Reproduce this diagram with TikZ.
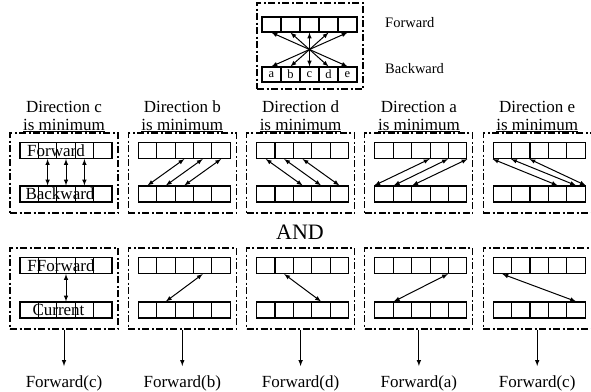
\documentclass[tikz,border=0pt]{standalone}
\usepackage{fontspec}
\setmainfont{Liberation Serif}
\usetikzlibrary{arrows}

\tikzstyle{cell}=[
    rectangle,
    line width=1.1pt,
    draw=black,
    minimum width=18.4pt,
    minimum height=16pt,
    inner sep=0pt,
    font=\fontsize{12.5}{13}\selectfont
]
\tikzstyle{frame}=[
    rectangle,
    line width=1.1pt,
    draw=black,
    dash pattern=on 7pt off 2.5pt on 2pt off 2.5pt,
    inner sep=0pt
]
\tikzstyle{link}=[
    <->,
    line width=1pt
]
\tikzstyle{heading}=[
    font=\fontsize{17}{18}\selectfont,
    align=center,
    inner sep=0pt,
    anchor=south
]
\tikzstyle{result}=[
    font=\fontsize{17}{18}\selectfont,
    inner sep=0pt,
    anchor=north
]
\tikzstyle{side}=[
    font=\fontsize{14.5}{16}\selectfont,
    inner sep=0pt,
    anchor=west
]
\tikzstyle{word}=[
    font=\fontsize{17}{17}\selectfont,
    inner sep=0pt
]

\begin{document}
\begin{tikzpicture}[>=latex, x=1pt, y=-1pt]
    \useasboundingbox (0,0) rectangle (591,391);

    % OVERVIEW
    \node (over) [frame, minimum width=106pt, minimum height=86pt] at (310,46) {};
    \foreach \i/\lt in {1/a,2/b,3/c,4/d,5/e} {
        \node (ot\i) [cell, minimum width=19pt, minimum height=15pt] at ({252.5+19*\i},24.5) {};
        \node (ob\i) [cell, minimum width=19pt, minimum height=15pt] at ({252.5+19*\i},74.5) {\lt};
    }
    \foreach \i in {1,...,5} {
        \pgfmathtruncatemacro{\j}{6-\i}
        \draw[link] (ot\i.south) -- (ob\j.north);
    }
    \node (fwside) [side] at (385,23) {Forward};
    \node (bwside) [side] at (385,69) {Backward};

    % PANELS
    \foreach \k/\d/\res in {1/c/c,2/b/b,3/d/d,4/a/a,5/e/c} {
        \pgfmathsetmacro{\px}{64+118.3*(\k-1)}
        % minimum direction
        \node (f\k) [frame, minimum width=108pt, minimum height=80pt] at (\px,173) {};
        \node (h\k) [heading] at (f\k.north) {Direction \d\\\underline{is minimum}};
        % chosen forward
        \node (g\k) [frame, minimum width=108pt, minimum height=81pt] at (\px,288.5) {};
        \foreach \i in {1,...,5} {
            \node (p\k-t\i) [cell] at ({\px-53.2+18.4*\i},150.5) {};
            \node (p\k-b\i) [cell] at ({\px-53.2+18.4*\i},194) {};
            \node (q\k-t\i) [cell] at ({\px-53.2+18.4*\i},265.5) {};
            \node (q\k-b\i) [cell] at ({\px-53.2+18.4*\i},310) {};
        }
        \node (r\k) [result] at (\px,375) {Forward(\res)};
        \draw[->, line width=1pt, shorten >=9pt] (g\k.south) -- (r\k.north);
    }

    \node (and) [font=\fontsize{22}{24}\selectfont] at (300,232) {AND};

    % row names in the first panels
    \node (fw1) [word] at ([xshift=-10pt]p1-t3.center) {Forward};
    \node (bw1) [word] at ([xshift=-6pt]p1-b3.center) {Backward};
    \node (ffw1) [word] at ([xshift=-5pt]q1-t3.center) {FForward};
    \node (cur1) [word] at ([xshift=-7.5pt]q1-b3.center) {Current};

    \path[link]
    % direction c
    (p1-t2.south) edge (p1-b2.north)
    (p1-t3.south) edge (p1-b3.north)
    (p1-t4.south) edge (p1-b4.north)
    % direction b
    (p2-t3.south) edge (p2-b1.north)
    (p2-t4.south) edge (p2-b2.north)
    (p2-t5.south) edge (p2-b3.north)
    % direction d
    (p3-t1.south) edge (p3-b3.north)
    (p3-t2.south) edge (p3-b4.north)
    (p3-t3.south) edge (p3-b5.north)
    % direction a
    (p4-t4.south west) edge (p4-b1.north west)
    (p4-t5.south west) edge (p4-b1.north east)
    (p4-t5.south east) edge (p4-b2.north east)
    % direction e
    (p5-t1.south west) edge (p5-b4.north)
    (p5-t2.south west) edge (p5-b5.north)
    (p5-t3.south west) edge (p5-b5.north east)

    % single pairs below AND
    (q1-t3.south) edge (q1-b3.north)
    (q2-t4.south) edge (q2-b2.north)
    (q3-t2.south) edge (q3-b4.north)
    (q4-t5.south west) edge (q4-b1.north east)
    (q5-t1.south) edge (q5-b5.north)
    ;
\end{tikzpicture}
\end{document}
